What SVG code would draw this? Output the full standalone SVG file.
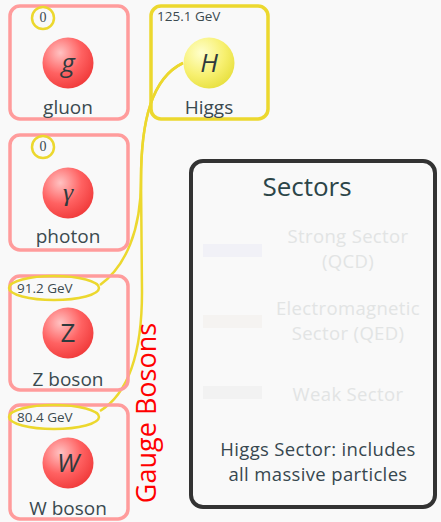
<svg xmlns="http://www.w3.org/2000/svg" width="441" height="522" viewBox="0 0 441 522">
<defs>
<radialGradient id="gRed" cx="0.35" cy="0.3" r="0.75">
<stop offset="0" stop-color="#ffc2c2"/>
<stop offset="0.55" stop-color="#ff6262"/>
<stop offset="1" stop-color="#f03a3a"/>
</radialGradient>
<radialGradient id="gYel" cx="0.35" cy="0.3" r="0.75">
<stop offset="0" stop-color="#ffffcc"/>
<stop offset="0.6" stop-color="#f7f070"/>
<stop offset="1" stop-color="#e8e040"/>
</radialGradient>
<style>
.box{fill:none;stroke:#ff9c9c;stroke-width:3.5}
.hbox{fill:none;stroke:#ecd82e;stroke-width:3.5}
.mass{fill:none;stroke:#ecd82e;stroke-width:2.5}
.lbl{font-family:"Open Sans","Noto Sans",sans-serif;font-size:19px;fill:#3b4a4f;text-anchor:middle}
.sym{font-family:"Open Sans","Noto Sans",sans-serif;font-size:26px;fill:#2f3a3d;text-anchor:middle}
.m{font-family:"Open Sans","Noto Sans",sans-serif;font-size:13.5px;fill:#3b4a4f}
.z{font-family:"Liberation Serif",serif;font-size:14px;fill:#3b4a4f;text-anchor:middle}
.conn{fill:none;stroke:#ecd82e;stroke-width:2.5}
.leg{font-family:"Open Sans","Noto Sans",sans-serif;font-size:18.5px;letter-spacing:0.35px;fill:#e2e4e4;text-anchor:middle}
.legd{font-family:"Open Sans","Noto Sans",sans-serif;font-size:18.5px;letter-spacing:0.35px;fill:#37474f;text-anchor:middle}
</style>
</defs>
<rect width="441" height="522" fill="#f9f9f9"/>

<g id="connectors">
<path class="conn" d="M183,63 C152,78 141,120 141,180 C141,230 126,266 100,285"/>
<path class="conn" d="M183,63 C152,78 141,120 141,180 L142,292 C142,360 126,395 100,411"/>
</g>

<g id="gluon">
<rect class="box" x="10" y="6" width="118" height="113" rx="10"/>
<circle cx="68" cy="63" r="25.5" fill="url(#gRed)"/>
<text class="sym" x="68" y="72" font-style="italic">g</text>
<text class="lbl" x="68" y="114">gluon</text>
<ellipse class="mass" cx="43" cy="18" rx="11" ry="11"/>
<text class="z" x="43" y="22">0</text>
</g>

<g id="photon">
<rect class="box" x="10" y="135" width="118" height="115" rx="10"/>
<circle cx="68" cy="193" r="25.5" fill="url(#gRed)"/>
<text class="sym" x="68" y="201" font-style="italic" style="font-family:'Liberation Serif',serif">γ</text>
<text class="lbl" x="68" y="243">photon</text>
<ellipse class="mass" cx="43" cy="147" rx="11" ry="11"/>
<text class="z" x="43" y="151">0</text>
</g>

<g id="zboson">
<rect class="box" x="10" y="276" width="118" height="114" rx="10"/>
<circle cx="68" cy="333" r="25.5" fill="url(#gRed)"/>
<text class="sym" x="68" y="342">Z</text>
<text class="lbl" x="68" y="386">Z boson</text>
<ellipse class="mass" cx="54" cy="288" rx="45" ry="12"/>
<text class="m" x="17" y="293">91.2 GeV</text>
</g>

<g id="wboson">
<rect class="box" x="10" y="405" width="118" height="114" rx="10"/>
<circle cx="68" cy="463" r="25.5" fill="url(#gRed)"/>
<text class="sym" x="68" y="472" font-style="italic">W</text>
<text class="lbl" x="68" y="515">W boson</text>
<ellipse class="mass" cx="54" cy="417" rx="45" ry="12"/>
<text class="m" x="17" y="422">80.4 GeV</text>
</g>

<g id="higgs">
<rect class="hbox" x="151" y="6" width="117" height="113" rx="10"/>
<circle cx="209" cy="63" r="25.5" fill="url(#gYel)"/>
<text class="sym" x="209" y="72" font-style="italic">H</text>
<text class="lbl" x="209" y="114">Higgs</text>
<text class="m" x="157" y="21">125.1 GeV</text>
</g>

<g id="gauge-label">
<text x="156" y="413" transform="rotate(-90 156 413)" font-size="27" fill="#ff0000" text-anchor="middle" style="font-family:'Open Sans','Noto Sans',sans-serif">Gauge Bosons</text>
</g>

<g id="legend">
<rect x="191" y="161" width="244" height="346" rx="12" fill="#f9f9f9" stroke="#333333" stroke-width="4"/>
<text x="307" y="196" font-size="26" fill="#2c4548" text-anchor="middle" style="font-family:'Open Sans','Noto Sans',sans-serif">Sectors</text>
<rect x="203" y="244" width="59" height="13" fill="#f1f1f7"/>
<text class="leg" x="348" y="243">Strong Sector</text>
<text class="leg" x="348" y="268">(QCD)</text>
<rect x="203" y="315" width="59" height="13" fill="#f5f3f1"/>
<text class="leg" x="348" y="315">Electromagnetic</text>
<text class="leg" x="348" y="340">Sector (QED)</text>
<rect x="203" y="386" width="59" height="13" fill="#f2f2f2"/>
<text class="leg" x="348" y="401">Weak Sector</text>
<text class="legd" x="318" y="456">Higgs Sector: includes</text>
<text class="legd" x="318" y="481">all massive particles</text>
</g>
</svg>
